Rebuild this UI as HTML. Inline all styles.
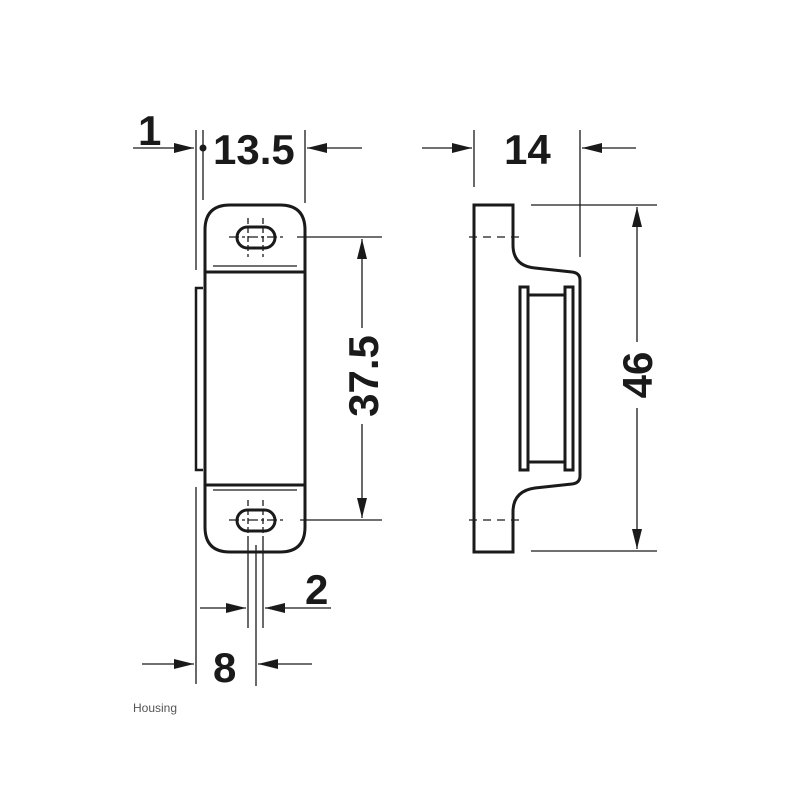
<!DOCTYPE html>
<html><head><meta charset="utf-8"><style>
html,body{margin:0;padding:0;background:#fff;width:800px;height:800px;overflow:hidden}
svg{display:block}
text{font-family:"Liberation Sans",Arial,sans-serif;font-weight:bold;fill:#1a1a1a}
</style></head><body>
<svg width="800" height="800" viewBox="0 0 800 800" xmlns="http://www.w3.org/2000/svg">
<defs>
<marker id="a" viewBox="0 0 20 10" refX="20" refY="5" markerWidth="20" markerHeight="10" markerUnits="userSpaceOnUse" orient="auto">
<path d="M0,0 L20,5 L0,10 Z" fill="#1a1a1a"/></marker>
</defs>
<g stroke="#1a1a1a" fill="none" stroke-width="3">
<path d="M205,527 V230 Q205,205 230,205 H280 Q305,205 305,230 V527 Q305,552 280,552 H230 Q205,552 205,527 Z"/>
<line x1="205" y1="272" x2="305" y2="272"/>
<line x1="205" y1="485" x2="305" y2="485"/>
<path d="M203,288 H196 V470 H203" stroke-width="2.5"/>
<rect x="237" y="227" width="38" height="21" rx="10.5"/>
<rect x="237" y="510" width="38" height="21" rx="10.5"/>
</g>
<g stroke="#1a1a1a" stroke-width="1.3" fill="none">
<line x1="213" y1="266" x2="297" y2="266"/>
<line x1="213" y1="490" x2="297" y2="490"/>
<line x1="229" y1="237" x2="284" y2="237" stroke-dasharray="10,3,3,3"/>
<line x1="229" y1="520" x2="284" y2="520" stroke-dasharray="10,3,3,3"/>
<line x1="248" y1="218" x2="248" y2="257" stroke-dasharray="6,3"/>
<line x1="263" y1="218" x2="263" y2="257" stroke-dasharray="6,3"/>
<line x1="248" y1="500" x2="248" y2="540" stroke-dasharray="6,3"/>
<line x1="263" y1="500" x2="263" y2="540" stroke-dasharray="6,3"/>
<line x1="196" y1="130" x2="196" y2="270"/>
<line x1="203" y1="130" x2="203" y2="200"/>
<line x1="305" y1="130" x2="305" y2="203"/>
<line x1="133" y1="148" x2="194" y2="148" marker-end="url(#a)"/>
<line x1="362" y1="148" x2="307" y2="148" marker-end="url(#a)"/>
<line x1="297" y1="237" x2="382" y2="237"/>
<line x1="300" y1="520" x2="382" y2="520"/>
<line x1="362" y1="328" x2="362" y2="239" marker-end="url(#a)"/>
<line x1="362" y1="424" x2="362" y2="518" marker-end="url(#a)"/>
<line x1="196" y1="487" x2="196" y2="684"/>
<line x1="256" y1="545" x2="256" y2="686"/>
<line x1="248" y1="540" x2="248" y2="628"/>
<line x1="263" y1="540" x2="263" y2="628"/>
<line x1="200" y1="608" x2="246" y2="608" marker-end="url(#a)"/>
<line x1="331" y1="608" x2="265" y2="608" marker-end="url(#a)"/>
<line x1="142" y1="664" x2="194" y2="664" marker-end="url(#a)"/>
<line x1="312" y1="664" x2="258" y2="664" marker-end="url(#a)"/>
<line x1="474" y1="130" x2="474" y2="187"/>
<line x1="580" y1="130" x2="580" y2="257"/>
<line x1="422" y1="148" x2="472" y2="148" marker-end="url(#a)"/>
<line x1="636" y1="148" x2="582" y2="148" marker-end="url(#a)"/>
<line x1="531" y1="205" x2="657" y2="205"/>
<line x1="531" y1="551" x2="657" y2="551"/>
<line x1="637" y1="342" x2="637" y2="207" marker-end="url(#a)"/>
<line x1="637" y1="408" x2="637" y2="549" marker-end="url(#a)"/>
<line x1="469" y1="237" x2="524" y2="237" stroke-dasharray="8,6"/>
<line x1="469" y1="520" x2="524" y2="520" stroke-dasharray="8,6"/>
</g>
<circle cx="203" cy="148" r="3.5" fill="#1a1a1a"/>
<g stroke="#1a1a1a" fill="none" stroke-width="3">
<path d="M474,205 H513 V245 Q513,266 535,268 L572,272 Q580,273 580,280 V476 Q580,483 572,484 L535,488 Q513,491 513,512 V552 H474 Z"/>
<rect x="520" y="287" width="8" height="183"/>
<rect x="565" y="287" width="8" height="183"/>
<line x1="528" y1="295" x2="565" y2="295"/>
<line x1="528" y1="462" x2="565" y2="462"/>
</g>
<text x="138" y="145" font-size="42">1</text>
<text x="213" y="164" font-size="42">13.5</text>
<text x="504" y="164" font-size="42">14</text>
<text x="305" y="604" font-size="42">2</text>
<text x="213" y="682" font-size="42">8</text>
<text transform="translate(378,376) rotate(-90)" text-anchor="middle" font-size="42">37.5</text>
<text transform="translate(652,375) rotate(-90)" text-anchor="middle" font-size="42">46</text>
<text x="133" y="712" font-size="12" style="font-weight:normal;fill:#555">Housing</text>
</svg>
</body></html>
